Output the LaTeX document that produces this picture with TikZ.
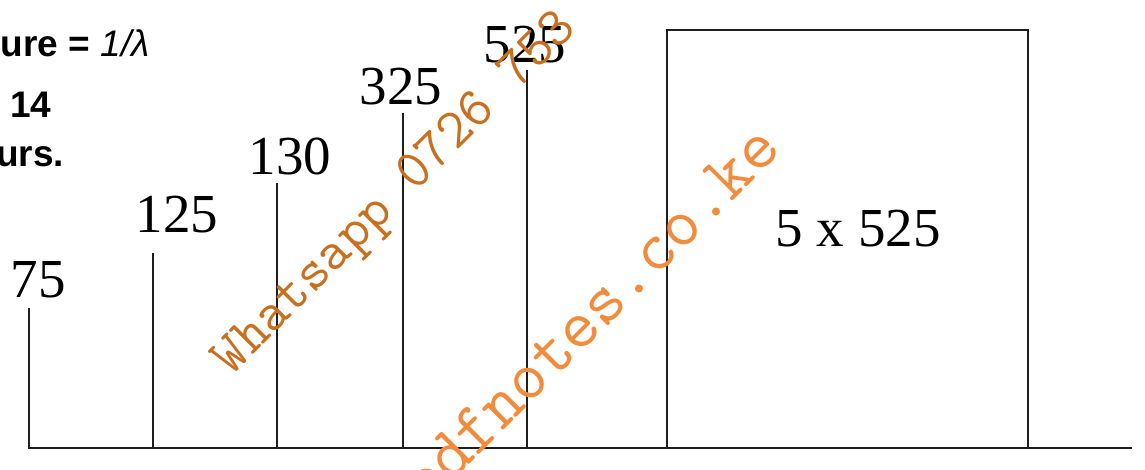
\documentclass[tikz,border=0pt]{standalone}
\usepackage{fontspec}
\setmainfont{Liberation Serif}
\setsansfont{Liberation Sans}
\begin{document}
\begin{tikzpicture}[x=1pt,y=-1pt,line width=2pt,
  numlabel/.style={anchor=base,inner sep=0pt,font=\fontsize{55}{60}\selectfont},
  fragment/.style={anchor=base west,inner sep=0pt,font=\sffamily\bfseries\fontsize{37}{44}\selectfont},
  stem/.style={inkgrey,line width=2pt},
  watermark/.style={anchor=base west,inner sep=0pt}]
\definecolor{inkgrey}{HTML}{1E1E1E}
\definecolor{wmdark}{HTML}{C87020}
\definecolor{wmlight}{HTML}{F28C3C}
\useasboundingbox (0,0) rectangle (1145,470);
\clip (0,0) rectangle (1145,470);
% text cut at the left edge
\node[fragment] (ratio) at (0,57) {ure = \textit{\mdseries 1/λ}};
\node[fragment] (count) at (9,118) {14};
\node[fragment] (hours) at (-5,167) {urs.};
% axis and stems
\coordinate (axisstart) at (28,448);
\coordinate (axisend) at (1132,448);
\draw[stem] (axisstart) -- (axisend);
\coordinate (foot1) at (29,448);\coordinate (tip1) at (29,308);
\coordinate (foot2) at (153,448);\coordinate (tip2) at (153,253);
\coordinate (foot3) at (277,448);\coordinate (tip3) at (277,183);
\coordinate (foot4) at (403,448);\coordinate (tip4) at (403,113);
\coordinate (foot5) at (527,448);\coordinate (tip5) at (527,70);
\draw[stem] (foot1) -- (tip1);
\draw[stem] (foot2) -- (tip2);
\draw[stem] (foot3) -- (tip3);
\draw[stem] (foot4) -- (tip4);
\draw[stem] (foot5) -- (tip5);
\node[numlabel] (n75) at (38,298) {75};
\node[numlabel] (n125) at (177,233) {125};
\node[numlabel] (n130) at (290,175) {130};
\node[numlabel] (n325) at (401,105) {325};
\node[numlabel] (n525) at (525,63) {525};
% the big block
\coordinate (blockfoot) at (667,448);
\coordinate (blocktop) at (1028,30);
\draw[stem] (blockfoot) rectangle (blocktop);
\node[numlabel] (product) at (858,247) {5 x 525};
% watermark
\node[watermark,rotate=45,text=wmdark,font=\ttfamily\fontsize{56}{58}\selectfont] (whatsapp) at (231,377) {Whatsapp 0726 753};
\node[watermark,rotate=45,text=wmlight,font=\ttfamily\fontsize{70}{72}\selectfont] (site) at (425,509) {pdfnotes.co.ke};
\end{tikzpicture}
\end{document}
